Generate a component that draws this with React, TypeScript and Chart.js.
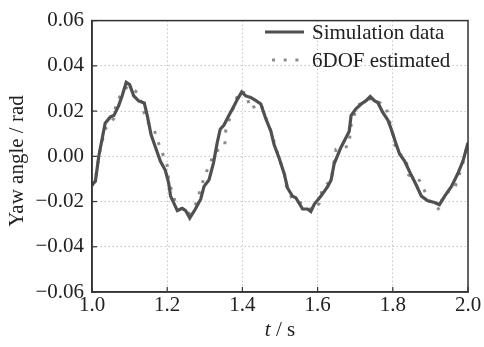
import React, { useEffect, useRef } from "react";
import { Chart, registerables } from "chart.js";

Chart.register(...registerables);

// Simulation data (solid line)
const timeSim = [
  1.0, 1.009, 1.018, 1.035, 1.049, 1.058, 1.071, 1.08, 1.091, 1.1, 1.111, 1.124, 1.139, 1.147,
  1.157, 1.169, 1.182, 1.195, 1.204, 1.209, 1.227, 1.24, 1.249, 1.26, 1.275, 1.289, 1.298,
  1.311, 1.323, 1.333, 1.341, 1.351, 1.364, 1.378, 1.387, 1.398, 1.409, 1.422, 1.436, 1.449,
  1.462, 1.476, 1.484, 1.498, 1.511, 1.52, 1.533, 1.542, 1.56, 1.573, 1.582, 1.591, 1.609,
  1.627, 1.636, 1.644, 1.662, 1.675, 1.684, 1.689, 1.702, 1.716, 1.729, 1.74, 1.751, 1.76,
  1.773, 1.787, 1.795, 1.809, 1.818, 1.831, 1.849, 1.862, 1.876, 1.893, 1.911, 1.924, 1.938,
  1.956, 1.973, 1.987, 2.0,
];
const yawSim = [
  -0.0126, -0.011, 0.0, 0.0146, 0.0174, 0.018, 0.0224, 0.0267, 0.0327, 0.0317, 0.0267, 0.0245,
  0.0236, 0.018, 0.0096, 0.0039, -0.0022, -0.0062, -0.0119, -0.0176, -0.024, -0.023, -0.024,
  -0.0273, -0.0233, -0.019, -0.0133, -0.0105, -0.003, 0.006, 0.012, 0.0138, 0.018, 0.0224,
  0.0253, 0.0284, 0.0267, 0.026, 0.0246, 0.0231, 0.0167, 0.011, 0.0053, -0.001, -0.0076,
  -0.014, -0.0176, -0.0183, -0.0233, -0.0233, -0.0244, -0.0212, -0.0176, -0.0133, -0.0105,
  -0.0033, 0.0039, 0.0081, 0.011, 0.018, 0.021, 0.0231, 0.0246, 0.0264, 0.0246, 0.0238, 0.0195,
  0.016, 0.0124, 0.0053, 0.001, -0.002, -0.0083, -0.0126, -0.0176, -0.0197, -0.0204, -0.0214,
  -0.0176, -0.0133, -0.0076, -0.0019, 0.006,
];

// 6DOF estimated (dotted line)
const timeEst = [
  1.0, 1.013, 1.018, 1.035, 1.058, 1.064, 1.08, 1.095, 1.124, 1.145, 1.164, 1.175, 1.2, 1.204,
  1.225, 1.255, 1.275, 1.299, 1.326, 1.353, 1.356, 1.375, 1.391, 1.411, 1.42, 1.449, 1.476,
  1.498, 1.511, 1.518, 1.533, 1.566, 1.585, 1.604, 1.613, 1.636, 1.649, 1.683, 1.69, 1.708,
  1.747, 1.758, 1.782, 1.8, 1.809, 1.835, 1.842, 1.871, 1.902, 1.926, 1.933, 1.964, 1.985, 2.0,
];
const yawEst = [
  -0.0133, -0.0069, 0.0003, 0.012, 0.0167, 0.0236, 0.028, 0.031, 0.0279, 0.0156, 0.0124,
  0.0067, -0.004, -0.011, -0.022, -0.026, -0.0216, -0.009, 0.0017, 0.0045, 0.0117, 0.021,
  0.0288, 0.0279, 0.021, 0.0231, 0.011, -0.0012, -0.0069, -0.014, -0.019, -0.0214, -0.024,
  -0.0209, -0.014, -0.0107, 0.0031, 0.0045, 0.015, 0.0227, 0.026, 0.0246, 0.0217, 0.01, 0.0024,
  -0.0012, -0.0083, -0.0107, -0.0212, -0.0237, -0.0169, -0.0144, -0.004, 0.006,
];

const seriesLabels = ["Simulation data", "6DOF estimated"];
const xTicks = [1.0, 1.2, 1.4, 1.6, 1.8, 2.0];
const yTicks = [-0.06, -0.04, -0.02, 0.0, 0.02, 0.04, 0.06];

const FONT = "'Liberation Serif', 'Times New Roman', serif";
const FS = 21;
const TEXT = "#222";

const decorPlugin = {
  id: "decor",
  afterDraw(chart: any) {
    const { ctx, chartArea: a, scales } = chart;
    ctx.save();
    // frame
    ctx.strokeStyle = "#333";
    ctx.lineWidth = 1.5;
    ctx.setLineDash([]);
    ctx.strokeRect(a.left, a.top, a.right - a.left, a.bottom - a.top);
    // inward ticks
    ctx.lineWidth = 1.2;
    xTicks.forEach((v) => {
      const px = scales.x.getPixelForValue(v);
      ctx.beginPath();
      ctx.moveTo(px, a.bottom);
      ctx.lineTo(px, a.bottom - 5);
      ctx.stroke();
    });
    yTicks.forEach((v) => {
      const py = scales.y.getPixelForValue(v);
      ctx.beginPath();
      ctx.moveTo(a.left, py);
      ctx.lineTo(a.left + 5, py);
      ctx.stroke();
    });
    // legend
    const rows = [32, 60];
    chart.data.datasets.forEach((ds: any, i: number) => {
      const y = rows[i];
      ctx.save();
      ctx.strokeStyle = ds.borderColor;
      ctx.lineWidth = ds.borderWidth;
      ctx.setLineDash(ds.borderDash || []);
      ctx.lineDashOffset = i === 1 ? -7 : 0;
      ctx.beginPath();
      ctx.moveTo(265, y);
      ctx.lineTo(304, y);
      ctx.stroke();
      ctx.restore();
      ctx.fillStyle = TEXT;
      ctx.font = `${FS}px ${FONT}`;
      ctx.textBaseline = "middle";
      ctx.textAlign = "left";
      ctx.fillText(ds.label, 312, y + 1);
    });
    // y title
    ctx.save();
    ctx.translate(17, 161);
    ctx.rotate(-Math.PI / 2);
    ctx.fillStyle = TEXT;
    ctx.font = `${FS}px ${FONT}`;
    ctx.textAlign = "center";
    ctx.textBaseline = "middle";
    ctx.fillText("Yaw angle / rad", 0, 0);
    ctx.restore();
    // x title with italic t
    const cx = (a.left + a.right) / 2;
    const by = 336;
    ctx.font = `italic ${FS}px ${FONT}`;
    const w1 = ctx.measureText("t").width;
    ctx.font = `${FS}px ${FONT}`;
    const w2 = ctx.measureText(" / s").width;
    const start = cx - (w1 + w2) / 2;
    ctx.fillStyle = TEXT;
    ctx.textAlign = "left";
    ctx.textBaseline = "alphabetic";
    ctx.font = `italic ${FS}px ${FONT}`;
    ctx.fillText("t", start, by);
    ctx.font = `${FS}px ${FONT}`;
    ctx.fillText(" / s", start + w1, by);
    ctx.restore();
  },
};

export default function App() {
  const ref = useRef<HTMLCanvasElement>(null);
  useEffect(() => {
    document.body.style.margin = "0";
    const canvas = ref.current!;
    const chart = new Chart(canvas, {
      type: "line",
      data: {
        datasets: [
          {
            label: seriesLabels[0],
            data: timeSim.map((t, i) => ({ x: t, y: yawSim[i] })),
            borderColor: "#505050",
            borderWidth: 3.2,
            pointRadius: 0,
            tension: 0,
            fill: false,
          },
          {
            label: seriesLabels[1],
            data: timeEst.map((t, i) => ({ x: t, y: yawEst[i] })),
            borderColor: "#8c8c8c",
            borderWidth: 3,
            borderDash: [3, 8.7],
            borderCapStyle: "butt",
            pointRadius: 0,
            tension: 0,
            fill: false,
          },
        ],
      },
      options: {
        animation: false,
        responsive: false,
        devicePixelRatio: 1,
        layout: { padding: { top: 12, right: 16, left: 0, bottom: 0 } },
        plugins: { legend: { display: false }, tooltip: { enabled: false } },
        scales: {
          x: {
            type: "linear",
            min: 1,
            max: 2,
            afterFit: (s: any) => {
              s.height = 55;
            },
            afterBuildTicks: (s: any) => {
              s.ticks = xTicks.map((v) => ({ value: v }));
            },
            ticks: {
              padding: 1,
              color: TEXT,
              font: { family: FONT, size: FS },
              callback: (v: any) => Number(v).toFixed(1),
              maxRotation: 0,
              autoSkip: false,
            },
            grid: { color: "#c4c4c4", lineWidth: 1, drawTicks: false },
            border: { display: true, color: "#333", width: 1.5, dash: [1.5, 2.5] },
          },
          y: {
            type: "linear",
            min: -0.06,
            max: 0.06,
            afterFit: (s: any) => {
              s.width = 92;
            },
            afterBuildTicks: (s: any) => {
              s.ticks = yTicks.map((v) => ({ value: v }));
            },
            ticks: {
              padding: 8,
              color: TEXT,
              font: { family: FONT, size: FS },
              callback: (v: any) => {
                const r = Math.round(Number(v) * 100) / 100;
                return (r < 0 ? "\u2212" : "") + Math.abs(r).toFixed(2);
              },
              autoSkip: false,
            },
            grid: { color: "#c4c4c4", lineWidth: 1, drawTicks: false },
            border: { display: true, color: "#333", width: 1.5, dash: [1.5, 2.5] },
          },
        },
      },
      plugins: [decorPlugin],
    } as any);
    return () => chart.destroy();
  }, []);
  return (
    <div style={{ width: 484, height: 347 }}>
      <canvas ref={ref} width={484} height={347} style={{ display: "block" }} />
    </div>
  );
}
